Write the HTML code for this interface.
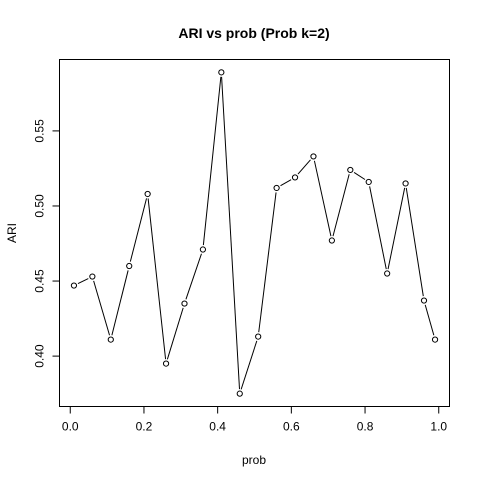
<!DOCTYPE html>
<html><head><meta charset="utf-8"><style>
body{margin:0;background:#fff}
svg text{font-family:"Liberation Sans",Arial,sans-serif;font-size:12px;fill:#000}
</style></head><body>
<svg id="chart" width="480" height="480" viewBox="0 0 480 480" xmlns="http://www.w3.org/2000/svg">
<rect x="0" y="0" width="480" height="480" fill="#fff"/>
<text x="254" y="38" text-anchor="middle" style="font-weight:bold;font-size:14px">ARI vs prob (Prob k=2)</text>
<rect x="59.5" y="59.5" width="390" height="347" fill="none" stroke="#000" stroke-width="1"/>
<text x="254" y="464" text-anchor="middle">prob</text>
<text transform="translate(16,233) rotate(-90)" text-anchor="middle">ARI</text>
<g id="xaxis"></g>
<g id="yaxis"></g>
<g id="series"></g>
</svg>
<script>
const probs = [0.01,0.06,0.11,0.16,0.21,0.26,0.31,0.36,0.41,0.46,0.51,0.56,0.61,0.66,0.71,0.76,0.81,0.86,0.91,0.96,0.99];
const ari = [0.447,0.453,0.411,0.460,0.508,0.395,0.435,0.471,0.589,0.375,0.413,0.512,0.519,0.533,0.477,0.524,0.516,0.455,0.515,0.437,0.411];
const xTicks = [0,0.2,0.4,0.6,0.8,1.0];
const xTickLabels = ["0.0","0.2","0.4","0.6","0.8","1.0"];
const yTicks = [0.40,0.45,0.50,0.55];
const yTickLabels = ["0.40","0.45","0.50","0.55"];

const NS="http://www.w3.org/2000/svg";
const L=59.5,R=449.5,T=59.5,B=406.5;
function ext(a){const mn=Math.min(...a),mx=Math.max(...a),p=(mx-mn)*0.04;return [mn-p,mx+p];}
const [x0,x1]=ext(probs),[y0,y1]=ext(ari);
const sx=v=>L+(v-x0)/(x1-x0)*(R-L);
const sy=v=>B-(v-y0)/(y1-y0)*(B-T);
function mk(tag,attrs,parent){const e=document.createElementNS(NS,tag);for(const k in attrs)e.setAttribute(k,attrs[k]);parent.appendChild(e);return e;}
const xa=document.getElementById('xaxis'),ya=document.getElementById('yaxis'),sg=document.getElementById('series');
mk('line',{x1:sx(xTicks[0]),x2:sx(xTicks[xTicks.length-1]),y1:B,y2:B,stroke:'#000'},xa);
xTicks.forEach((v,i)=>{
  const t=mk('line',{x1:sx(v),x2:sx(v),y1:B,y2:B+7,stroke:'#000'},xa);
  
  
  const l=mk('text',{x:sx(v),y:B+24,'text-anchor':'middle'},xa);
  
  
  l.textContent=xTickLabels[i];
});
mk('line',{x1:L,x2:L,y1:sy(yTicks[0]),y2:sy(yTicks[yTicks.length-1]),stroke:'#000'},ya);
yTicks.forEach((v,i)=>{
  const t=mk('line',{x1:L-7,x2:L,y1:sy(v),y2:sy(v),stroke:'#000'},ya);
  
  
  const l=mk('text',{transform:`translate(${L-16},${sy(v)}) rotate(-90)`,'text-anchor':'middle'},ya);
  
  
  l.textContent=yTickLabels[i];
});
// line segments with gaps near points (R type="b")
const r=2.6,gap=4.5;
for(let i=0;i<probs.length-1;i++){
  const ax=sx(probs[i]),ay=sy(ari[i]),bx=sx(probs[i+1]),by=sy(ari[i+1]);
  const d=Math.hypot(bx-ax,by-ay);if(d<=2*gap)continue;
  const ux=(bx-ax)/d,uy=(by-ay)/d;
  const s=mk('line',{x1:ax+ux*gap,y1:ay+uy*gap,x2:bx-ux*gap,y2:by-uy*gap,stroke:'#000','stroke-width':1},sg);
  
  
}
probs.forEach((p,i)=>{
  const c=mk('circle',{cx:sx(p),cy:sy(ari[i]),r:r,fill:'none',stroke:'#000','stroke-width':1},sg);
  
  
});
</script>
</body></html>
